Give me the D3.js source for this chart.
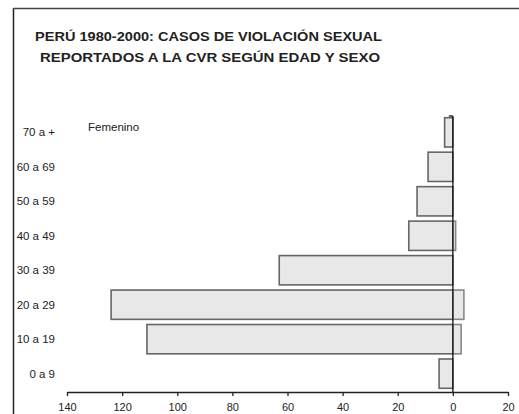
<!DOCTYPE html>
<html><head><meta charset="utf-8">
<script src="https://cdn.jsdelivr.net/npm/d3@7"></script>
<style>body{margin:0;background:#fff;} svg{display:block;font-family:"Liberation Sans",Arial,sans-serif;}</style>
</head><body>
<svg id="c" width="519" height="414"></svg>
<script>
const categories = ["70 a +","60 a 69","50 a 59","40 a 49","30 a 39","20 a 29","10 a 19","0 a 9"];
const femenino = [3, 9, 13, 16, 63, 124, 111, 5];
const masculino = [0, 0, 0, 1, 0, 4, 3, 0];
const xTicks = [-140,-120,-100,-80,-60,-40,-20,0,20];
const titleLines = ["PERÚ 1980-2000: CASOS DE VIOLACIÓN SEXUAL","REPORTADOS A LA CVR SEGÚN EDAD Y SEXO"];
const seriesLabel = "Femenino";

const svg = d3.select("#c");
// frame
svg.append("line").attr("x1",13.5).attr("x2",13.5).attr("y1",8).attr("y2",414).attr("stroke","#222").attr("stroke-width",1.5);
svg.append("line").attr("x1",13).attr("x2",519).attr("y1",8.5).attr("y2",8.5).attr("stroke","#444").attr("stroke-width",1.5);

// title
const tpos = [{x:35,y:41,w:347},{x:40,y:62,w:340}];
titleLines.forEach((t,i)=>{
  svg.append("text").attr("x",tpos[i].x).attr("y",tpos[i].y).text(t)
    .attr("font-size",12.5).attr("font-weight","bold").attr("fill","#222")
    .attr("textLength",tpos[i].w).attr("lengthAdjust","spacingAndGlyphs");
});

const x = d3.scaleLinear().domain([-140,20]).range([67,508]);
const y = d3.scaleBand().domain(categories).range([116,390]).paddingInner(0.15).paddingOuter(0.05);

const data = categories.map((c,i)=>({c, f:femenino[i], m:masculino[i]}));

// female bars
svg.selectAll("rect.f").data(data).join("rect").attr("class","f")
  .attr("x",d=>x(-d.f)).attr("width",d=>x(0)-x(-d.f))
  .attr("y",d=>y(d.c)).attr("height",y.bandwidth())
  .attr("fill","#e8e8e8").attr("stroke","#666").attr("stroke-width",1.6);
// male bars
svg.selectAll("rect.m").data(data.filter(d=>d.m>0)).join("rect").attr("class","m")
  .attr("x",x(0)).attr("width",d=>x(d.m)-x(0))
  .attr("y",d=>y(d.c)).attr("height",y.bandwidth())
  .attr("fill","#e8e8e8").attr("stroke","#888").attr("stroke-width",1.6);

// center axis
svg.append("line").attr("x1",x(0)).attr("x2",x(0)).attr("y1",116).attr("y2",392).attr("stroke","#111").attr("stroke-width",1.3);
svg.append("line").attr("x1",x(0)-4).attr("x2",x(0)).attr("y1",116).attr("y2",116).attr("stroke","#111").attr("stroke-width",1.3);

// category labels
svg.selectAll("text.cat").data(categories).join("text").attr("class","cat")
  .attr("x",55).attr("y",d=>y(d)+y.bandwidth()/2).attr("dy","0.35em")
  .attr("text-anchor","end").attr("font-size",11.5).attr("fill","#222").text(d=>d);

// series label
svg.append("text").attr("x",88).attr("y",131).attr("font-size",11.5).attr("fill","#222").text(seriesLabel);

// bottom axis
const ax = svg.append("g").attr("transform","translate(0,392)")
  .call(d3.axisBottom(x).tickValues(xTicks).tickFormat(d=>Math.abs(d)).tickSize(4).tickSizeOuter(0).tickPadding(7));
ax.select(".domain").attr("stroke","#222").attr("stroke-width",1.3);
ax.selectAll(".tick line").attr("stroke","#222").attr("stroke-width",1.3);
ax.selectAll(".tick text").attr("font-size",11).attr("fill","#222").attr("font-family","Liberation Sans, Arial, sans-serif");
</script>
</body></html>
